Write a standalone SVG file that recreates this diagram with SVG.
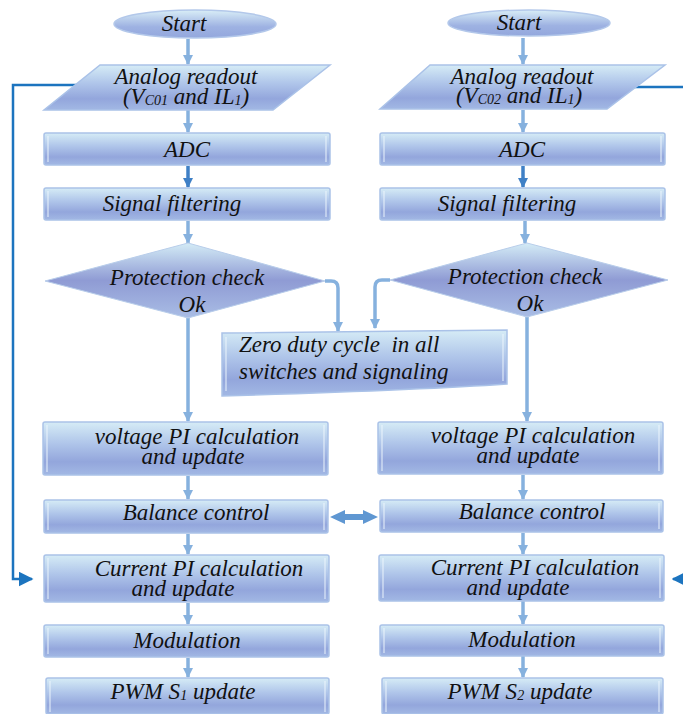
<svg xmlns="http://www.w3.org/2000/svg" width="683" height="714" viewBox="0 0 683 714">
<defs>
<linearGradient id="boxG" x1="0" y1="0" x2="0" y2="1">
<stop offset="0" stop-color="#d6ecf6"/>
<stop offset="0.4" stop-color="#b0c6ea"/>
<stop offset="0.75" stop-color="#93a6dc"/>
<stop offset="1" stop-color="#a2b8e4"/>
</linearGradient>
<linearGradient id="ellG" x1="0" y1="0" x2="0" y2="1">
<stop offset="0" stop-color="#d9eef7"/>
<stop offset="0.6" stop-color="#9eb2e2"/>
<stop offset="1" stop-color="#93a7dd"/>
</linearGradient>
<linearGradient id="diaG" x1="0" y1="0" x2="0" y2="1">
<stop offset="0" stop-color="#d4ecf6"/>
<stop offset="0.5" stop-color="#8f9bd4"/>
<stop offset="1" stop-color="#a9bde5"/>
</linearGradient>
<marker id="ah" viewBox="0 0 10 10" refX="9" refY="5" markerWidth="3" markerHeight="3" orient="auto" markerUnits="strokeWidth">
<path d="M0,0 L10,5 L0,10 z" fill="#86b1de"/>
</marker>
<marker id="ahd" viewBox="0 0 10 10" refX="9" refY="5" markerWidth="3" markerHeight="3" orient="auto" markerUnits="strokeWidth">
<path d="M0,0 L10,5 L0,10 z" fill="#3f80c6"/>
</marker>
<marker id="ahb" viewBox="0 0 10 10" refX="9" refY="5" markerWidth="6" markerHeight="6" orient="auto" markerUnits="strokeWidth">
<path d="M0,0 L10,5 L0,10 z" fill="#1c74bf"/>
</marker>
</defs>
<style>
.box{fill:url(#boxG);stroke:#aac2e8;stroke-width:1.5}
.ell{fill:url(#ellG);stroke:#b3c8ea;stroke-width:1.5}
.dia{fill:url(#diaG);stroke:#b8cdea;stroke-width:1}
.hl{stroke:#eef6fc;stroke-width:1.2;opacity:0.8;fill:none}
text{font-family:"Liberation Serif","Times New Roman",serif;font-style:italic;font-size:23px;fill:#111;text-anchor:middle}
text.ts{text-anchor:start}
.sub{font-size:14px}
.a{stroke:#86b1de;stroke-width:3.5;fill:none;marker-end:url(#ah)}
.ad{stroke:#3f80c6;stroke-width:3.5;fill:none;marker-end:url(#ahd)}
.fb{stroke:#1c74bf;stroke-width:2.5;fill:none}
</style>

<g id="connectors">
<line class="a" x1="188" y1="39" x2="188" y2="64"/>
<line class="a" x1="188" y1="110" x2="188" y2="132"/>
<line class="ad" x1="188" y1="166" x2="188" y2="187"/>
<line class="a" x1="188" y1="221" x2="188" y2="243"/>
<line class="a" x1="188" y1="318" x2="188" y2="421"/>
<line class="a" x1="188" y1="476" x2="188" y2="499"/>
<line class="a" x1="188" y1="534" x2="188" y2="554"/>
<line class="a" x1="188" y1="603" x2="188" y2="624"/>
<line class="a" x1="188" y1="658" x2="188" y2="677"/>
<path class="a" d="M325,281 L331,281 Q338,281 338,288 L338,331"/>

<line class="a" x1="523" y1="38" x2="523" y2="64"/>
<line class="a" x1="523" y1="110" x2="523" y2="132"/>
<line class="ad" x1="523" y1="166" x2="523" y2="187"/>
<line class="a" x1="525" y1="221" x2="525" y2="243"/>
<line class="a" x1="527" y1="317" x2="527" y2="421"/>
<line class="a" x1="523" y1="475" x2="523" y2="499"/>
<line class="a" x1="523" y1="533" x2="523" y2="554"/>
<line class="a" x1="523" y1="601" x2="523" y2="624"/>
<line class="a" x1="523" y1="656" x2="523" y2="677"/>
<path class="a" d="M390,280 L382,280 Q375,280 375,287 L375,328"/>

<path class="fb" d="M78,85 L13,85 L13,579 L32,579" marker-end="url(#ahb)"/>
<path class="fb" d="M633,87 L683,87"/>
<path class="fb" d="M683,579 L673,579" marker-end="url(#ahb)"/>

<path d="M330,517 L345,510 L345,514 L363,514 L363,510 L378,517 L363,524 L363,520 L345,520 L345,524 Z" fill="#5f97d2"/>
</g>

<g id="start1"><ellipse class="ell" cx="195" cy="24" rx="81" ry="14"/><text x="184" y="31">Start</text></g>
<g id="read1"><polygon class="box" points="100,65 330,65 273,110 44,110"/>
<text x="186" y="84">Analog readout</text>
<text x="186" y="104">(V<tspan class="sub" dy="1">C01</tspan><tspan dy="-1"> and IL</tspan><tspan class="sub" dy="1">1</tspan><tspan dy="-1">)</tspan></text></g>
<g id="adc1"><rect class="box" x="44" y="133" width="286" height="32" rx="2"/><line class="hl" x1="48" y1="136" x2="48" y2="162"/><line class="hl" x1="326" y1="136" x2="326" y2="162"/><text x="187" y="157">ADC</text></g>
<g id="filt1"><rect class="box" x="44" y="188" width="286" height="32" rx="2"/><line class="hl" x1="48" y1="191" x2="48" y2="217"/><line class="hl" x1="326" y1="191" x2="326" y2="217"/><text x="172" y="211">Signal filtering</text></g>
<g id="prot1"><polygon class="dia" points="188,243 325,281 188,318 45,281"/><text x="187" y="285">Protection check</text><text x="192" y="312">Ok</text></g>
<g id="zero"><path class="box" d="M222,333 L507,330 L507,384 Q420,390 222,396 Z"/><line class="hl" x1="226" y1="337" x2="226" y2="391"/><line class="hl" x1="503" y1="334" x2="503" y2="381"/>
<text class="ts" x="239" y="352" xml:space="preserve">Zero duty cycle  in all</text><text class="ts" x="239" y="379">switches and signaling</text></g>
<g id="volt1"><rect class="box" x="43" y="422" width="285" height="53" rx="2"/><line class="hl" x1="47" y1="425" x2="47" y2="472"/><line class="hl" x1="324" y1="425" x2="324" y2="472"/><text x="197" y="444">voltage PI calculation</text><text x="193" y="464">and update</text></g>
<g id="bal1"><rect class="box" x="44" y="500" width="284" height="33" rx="2"/><line class="hl" x1="48" y1="503" x2="48" y2="530"/><line class="hl" x1="324" y1="503" x2="324" y2="530"/><text x="196" y="520">Balance control</text></g>
<g id="cur1"><rect class="box" x="44" y="555" width="285" height="47" rx="2"/><line class="hl" x1="48" y1="558" x2="48" y2="599"/><line class="hl" x1="325" y1="558" x2="325" y2="599"/><text x="199" y="576">Current PI calculation</text><text x="183" y="596">and update</text></g>
<g id="mod1"><rect class="box" x="44" y="625" width="285" height="32" rx="2"/><line class="hl" x1="48" y1="628" x2="48" y2="654"/><line class="hl" x1="325" y1="628" x2="325" y2="654"/><text x="187" y="648">Modulation</text></g>
<g id="pwm1"><rect class="box" x="46" y="678" width="283" height="36" rx="2"/><line class="hl" x1="50" y1="681" x2="50" y2="712"/><line class="hl" x1="325" y1="681" x2="325" y2="712"/><text x="183" y="699">PWM S<tspan class="sub" dy="1">1</tspan><tspan dy="-1"> update</tspan></text></g>

<g id="start2"><ellipse class="ell" cx="529" cy="23" rx="81" ry="13"/><text x="519" y="30">Start</text></g>
<g id="read2"><polygon class="box" points="430,65 665,65 607,109 380,109"/>
<text x="522" y="84">Analog readout</text>
<text x="519" y="103">(V<tspan class="sub" dy="1">C02</tspan><tspan dy="-1"> and IL</tspan><tspan class="sub" dy="1">1</tspan><tspan dy="-1">)</tspan></text></g>
<g id="adc2"><rect class="box" x="380" y="133" width="285" height="32" rx="2"/><line class="hl" x1="384" y1="136" x2="384" y2="162"/><line class="hl" x1="661" y1="136" x2="661" y2="162"/><text x="522" y="157">ADC</text></g>
<g id="filt2"><rect class="box" x="380" y="188" width="285" height="32" rx="2"/><line class="hl" x1="384" y1="191" x2="384" y2="217"/><line class="hl" x1="661" y1="191" x2="661" y2="217"/><text x="507" y="211">Signal filtering</text></g>
<g id="prot2"><polygon class="dia" points="527,243 668,280 527,317 390,280"/><text x="525" y="284">Protection check</text><text x="530" y="311">Ok</text></g>
<g id="volt2"><rect class="box" x="378" y="422" width="285" height="52" rx="2"/><line class="hl" x1="382" y1="425" x2="382" y2="471"/><line class="hl" x1="659" y1="425" x2="659" y2="471"/><text x="533" y="443">voltage PI calculation</text><text x="528" y="463">and update</text></g>
<g id="bal2"><rect class="box" x="380" y="500" width="283" height="32" rx="2"/><line class="hl" x1="384" y1="503" x2="384" y2="529"/><line class="hl" x1="659" y1="503" x2="659" y2="529"/><text x="532" y="519">Balance control</text></g>
<g id="cur2"><rect class="box" x="379" y="555" width="285" height="46" rx="2"/><line class="hl" x1="383" y1="558" x2="383" y2="598"/><line class="hl" x1="660" y1="558" x2="660" y2="598"/><text x="535" y="575">Current PI calculation</text><text x="518" y="595">and update</text></g>
<g id="mod2"><rect class="box" x="380" y="625" width="284" height="31" rx="2"/><line class="hl" x1="384" y1="628" x2="384" y2="653"/><line class="hl" x1="660" y1="628" x2="660" y2="653"/><text x="522" y="647">Modulation</text></g>
<g id="pwm2"><rect class="box" x="382" y="678" width="281" height="36" rx="2"/><line class="hl" x1="386" y1="681" x2="386" y2="712"/><line class="hl" x1="659" y1="681" x2="659" y2="712"/><text x="520" y="699">PWM S<tspan class="sub" dy="1">2</tspan><tspan dy="-1"> update</tspan></text></g>
</svg>
